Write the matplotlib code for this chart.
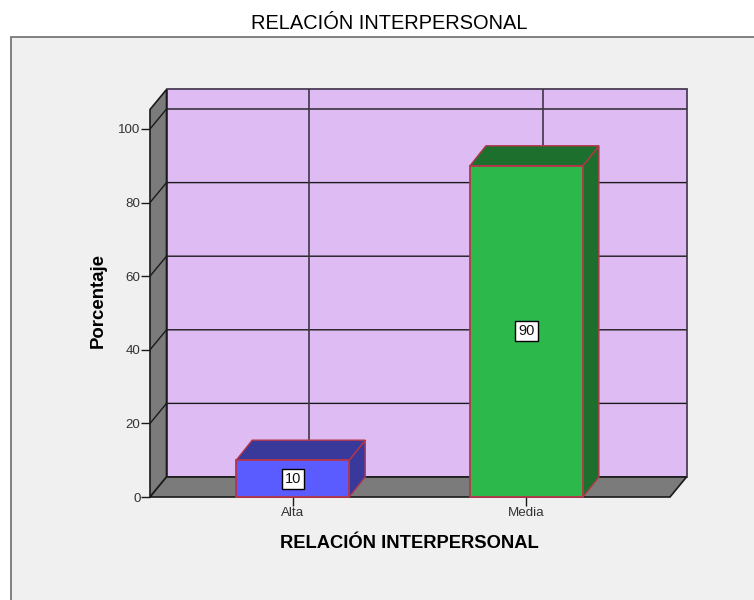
import matplotlib
matplotlib.use("Agg")
import matplotlib.pyplot as plt
from matplotlib.patches import Rectangle

plt.rcParams['font.family'] = ['Liberation Sans', 'DejaVu Sans']

# data
categories = ["Alta", "Media"]
porcentajes = [10, 90]
yticks = [0, 20, 40, 60, 80, 100]
title_text = "RELACIÓN INTERPERSONAL"
ylabel_text = "Porcentaje"

# colours
PANEL = "#f0f0f0"
WALL = "#dfbbf3"
GREY = "#7b7b7b"
LINE = "#1a1a1a"
EDGE = "#b5354a"
bar_front = ["#5a5cff", "#2db84b"]
bar_side = ["#39399b", "#1c6f2d"]

W, H = 754, 600
fig = plt.figure(figsize=(W / 100, H / 100), dpi=100, facecolor="white")

# grey panel behind the chart, open to the right and the bottom
fig.patches.append(Rectangle((10.5 / W, -0.01), 1, 1 - 36.5 / H + 0.01, transform=fig.transFigure,
                             facecolor=PANEL, edgecolor="#777777", linewidth=1.3, zorder=-1))

# axes = front plane of the 3D box
ax = fig.add_axes([150 / W, 1 - 497 / H, 520 / W, 387.5 / H])
px_x = 233.7   # pixels between categories
px_y = 3.68    # pixels per unit
xmin, xmax = (150 - 292.7) / px_x, (670 - 292.7) / px_x
ymin, ymax = 0, 387.5 / px_y
ax.set_xlim(xmin, xmax)
ax.set_ylim(ymin, ymax)
ax.patch.set_visible(False)
for s in ax.spines.values():
    s.set_visible(False)

DX = 16.5 / px_x   # depth of the box
DY = 20 / px_y
BAR_W = 113 / px_x
BAR_DX = 16 / px_x


def poly(xs, ys, fc, ec=LINE, lw=1.2, z=1):
    ax.fill(xs, ys, facecolor=fc, edgecolor=ec, linewidth=lw, zorder=z, clip_on=False, joinstyle="miter")


def seg(xs, ys, color=LINE, lw=1.0, z=2):
    ax.plot(xs, ys, color=color, linewidth=lw, zorder=z, clip_on=False, solid_capstyle="butt")


# back wall, left wall, floor
poly([xmin + DX, xmax + DX, xmax + DX, xmin + DX], [DY, DY, ymax + DY, ymax + DY], WALL, ec="#4a3d55", lw=1.3)
poly([xmin, xmin + DX, xmin + DX, xmin], [0, DY, ymax + DY, ymax], GREY, ec=LINE)
poly([xmin, xmax, xmax + DX, xmin + DX], [0, 0, DY, DY], GREY, ec=LINE)

# grid on the walls
for v in yticks[1:]:
    seg([xmin, xmin + DX, xmax + DX], [v, v + DY, v + DY])
for i in range(len(categories)):
    seg([i + DX, i + DX], [DY, ymax + DY], color="#3f3548", lw=1.2)

# bars
for i, val in enumerate(porcentajes):
    l, r = i - BAR_W / 2, i + BAR_W / 2
    poly([r, r + BAR_DX, r + BAR_DX, r], [0, DY, val + DY, val], bar_side[i], ec=EDGE, lw=1.0, z=3)
    poly([l, r, r + BAR_DX, l + BAR_DX], [val, val, val + DY, val + DY], bar_side[i], ec=EDGE, lw=1.0, z=3)
    poly([l, r, r, l], [0, 0, val, val], bar_front[i], ec=EDGE, lw=1.3, z=4)
    ax.text(i, val / 2, str(val), ha="center", va="center", fontsize=10.5, color="#111111", zorder=5,
            bbox=dict(boxstyle="square,pad=0.2", facecolor="white", edgecolor="black", linewidth=1))

ax.set_xticks(range(len(categories)))
ax.set_xticklabels(categories, fontsize=9.6, color="#333333")
ax.set_yticks(yticks)
ax.tick_params(axis="x", length=6.5, width=1, pad=0.5, color=LINE)
ax.tick_params(axis="y", length=6.3, width=1, pad=0.5, labelsize=9.6, color=LINE, labelcolor="#333333")

fig.text(389 / W, 1 - 23.5 / H, title_text, ha="center", va="center", fontsize=14.4, color="black")
fig.text(409 / W, 1 - 543 / H, title_text, ha="center", va="center", fontsize=13.2, fontweight="bold", color="black")
fig.text(98 / W, 1 - 301 / H, ylabel_text, ha="center", va="center", rotation=90, fontsize=13.4, fontweight="bold", color="black")

fig.savefig("out.png", dpi=100, facecolor="white")
